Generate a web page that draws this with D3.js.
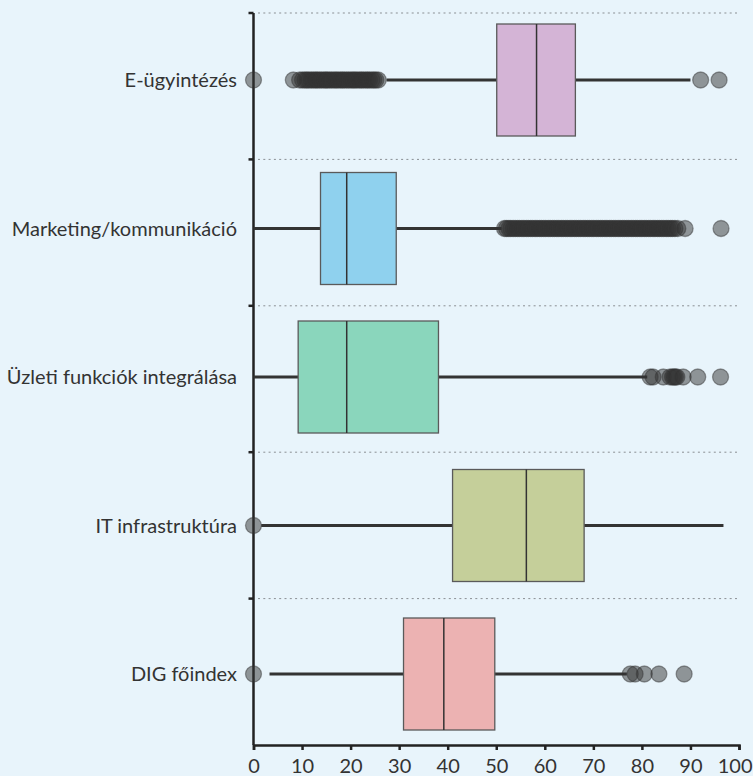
<!DOCTYPE html>
<html>
<head>
<meta charset="utf-8">
<script src="https://cdn.jsdelivr.net/npm/d3@7/dist/d3.min.js"></script>
<style>
  html, body { margin: 0; padding: 0; background: #e8f4fb; }
  svg { display: block; }
  text { font-family: Lato, "Open Sans", sans-serif; fill: #333; }
</style>
</head>
<body>
<svg id="chart" width="753" height="776"></svg>
<script>
// Categories, top to bottom
const categories = ["E-ügyintézés", "Marketing/kommunikáció", "Üzleti funkciók integrálása", "IT infrastruktúra", "DIG főindex"];

// Box fill colours per category
const boxColors = ["#d4b4d6", "#8fd1ee", "#8ad6bc", "#c5cf9a", "#ecb2b2"];

// Five-number summaries (whisker low, Q1, median, Q3, whisker high)
const whiskerLow  = [27.4, 0.0, 0.0, 1.6, 3.3];
const q1          = [50.1, 13.8, 9.2, 41.0, 30.9];
const median      = [58.3, 19.2, 19.2, 56.2, 39.2];
const q3          = [66.3, 29.4, 38.1, 68.1, 49.7];
const whiskerHigh = [90.0, 51.1, 81.1, 96.8, 76.9];

// Outlying observations per category
const outliersEgov = [0.0, 8.2, 9.5, 10.1, 10.6, 11.0, 11.4, 11.9, 12.3, 12.8, 13.1, 13.6, 14.0, 14.5, 14.9,
  15.2, 15.7, 16.1, 16.6, 17.0, 17.4, 17.9, 18.3, 18.7, 19.2, 19.6, 20.1, 20.5, 20.9, 21.3, 21.8,
  22.2, 22.6, 23.1, 23.5, 23.9, 24.4, 24.8, 25.2, 25.7, 92.1, 95.9];
const outliersMarketing = [51.7, 52.1, 52.6, 53.0, 53.5, 53.9, 54.4, 54.8, 55.3, 55.7, 56.2, 56.6, 57.1, 57.5,
  58.0, 58.4, 58.9, 59.3, 59.8, 60.2, 60.7, 61.1, 61.6, 62.0, 62.5, 62.9, 63.4, 63.8, 64.3, 64.7,
  65.2, 65.6, 66.1, 66.5, 67.0, 67.4, 67.9, 68.3, 68.8, 69.2, 69.7, 70.1, 70.6, 71.0, 71.5, 71.9,
  72.4, 72.8, 73.3, 73.7, 74.2, 74.6, 75.1, 75.5, 76.0, 76.4, 76.9, 77.3, 77.8, 78.2, 78.7, 79.1,
  79.6, 80.0, 80.5, 80.9, 81.4, 81.8, 82.3, 82.7, 83.2, 83.6, 84.1, 84.5, 85.0, 85.4, 85.9, 86.3,
  86.8, 87.4, 88.9, 96.3];
const outliersBusiness = [81.7, 82.3, 84.4, 85.8, 86.3, 86.6, 86.9, 87.2, 88.5, 91.5, 96.2];
const outliersIT = [0.0];
const outliersDIG = [0.0, 77.6, 78.6, 80.5, 83.5, 88.7];
const outliers = [outliersEgov, outliersMarketing, outliersBusiness, outliersIT, outliersDIG];

// X axis ticks
const xTicks = [0, 10, 20, 30, 40, 50, 60, 70, 80, 90, 100];

const svg = d3.select("#chart");

const x = d3.scaleLinear().domain([0, 100]).range([253.5, 739]);
// Row bands (gridlines / axis ticks) and row centres (boxes)
const band = d3.scaleBand().domain(categories).range([13, 745]).padding(0);
const yc = d3.scalePoint().domain(categories).range([80, 674]);
const boxH = 112;

// Dotted gridlines at row boundaries
svg.append("g").selectAll("line")
  .data(categories)
  .join("line")
  .attr("x1", 258).attr("x2", 738)
  .attr("y1", d => band(d)).attr("y2", d => band(d))
  .attr("stroke", "#8a8f93")
  .attr("stroke-width", 1)
  .attr("stroke-dasharray", "2,3.3");

// Axes
const gx = svg.append("g").attr("transform", `translate(0,745)`)
  .call(d3.axisBottom(x).tickValues(xTicks).tickSize(5).tickPadding(9).tickFormat(d3.format("d")));
gx.select(".domain").attr("stroke", "#222").attr("stroke-width", 2.5);
gx.selectAll(".tick line").attr("stroke", "#222").attr("stroke-width", 2.5);
gx.selectAll(".tick text").attr("font-size", 20).attr("fill", "#333")
  .style("font-family", "Lato, 'Open Sans', sans-serif");
// keep the last label inside the right edge
gx.selectAll(".tick text").filter(d => d === 100)
  .attr("text-anchor", "end").attr("x", 13);

const gy = svg.append("g").attr("transform", `translate(253.5,0)`);
gy.append("line").attr("x1", 0).attr("x2", 0).attr("y1", 13).attr("y2", 745)
  .attr("stroke", "#222").attr("stroke-width", 2.5);
gy.selectAll("line.tk")
  .data(categories)
  .join("line").attr("class", "tk")
  .attr("x1", -5).attr("x2", 0)
  .attr("y1", d => band(d)).attr("y2", d => band(d))
  .attr("stroke", "#222").attr("stroke-width", 2.5);

// Category labels
svg.append("g").selectAll("text")
  .data(categories)
  .join("text")
  .attr("x", 237)
  .attr("y", d => yc(d))
  .attr("dy", "0.35em")
  .attr("text-anchor", "end")
  .attr("font-size", 20)
  .text(d => d);

// Boxplots
const rows = categories.map((c, i) => ({
  c, color: boxColors[i], lo: whiskerLow[i], q1: q1[i], med: median[i], q3: q3[i], hi: whiskerHigh[i], out: outliers[i]
}));

const g = svg.append("g");
const row = g.selectAll("g.row").data(rows).join("g").attr("class", "row");

// Whiskers
row.append("line")
  .attr("x1", d => x(d.lo)).attr("x2", d => x(d.q1))
  .attr("y1", d => yc(d.c)).attr("y2", d => yc(d.c))
  .attr("stroke", "#333").attr("stroke-width", 3);
row.append("line")
  .attr("x1", d => x(d.q3)).attr("x2", d => x(d.hi))
  .attr("y1", d => yc(d.c)).attr("y2", d => yc(d.c))
  .attr("stroke", "#333").attr("stroke-width", 3);

// Boxes
row.append("rect")
  .attr("x", d => x(d.q1))
  .attr("width", d => x(d.q3) - x(d.q1))
  .attr("y", d => yc(d.c) - boxH / 2)
  .attr("height", boxH)
  .attr("fill", d => d.color)
  .attr("stroke", "#5a5a5a").attr("stroke-width", 1.3);

// Medians
row.append("line")
  .attr("x1", d => x(d.med)).attr("x2", d => x(d.med))
  .attr("y1", d => yc(d.c) - boxH / 2).attr("y2", d => yc(d.c) + boxH / 2)
  .attr("stroke", "#333").attr("stroke-width", 1.5);

// Outlier points
row.selectAll("circle")
  .data(d => d.out.map(v => ({ v, c: d.c })))
  .join("circle")
  .attr("cx", d => x(d.v))
  .attr("cy", d => yc(d.c))
  .attr("r", 8)
  .attr("fill", "#333").attr("fill-opacity", 0.5)
  .attr("stroke", "#333").attr("stroke-opacity", 0.45).attr("stroke-width", 1.3);
</script>
</body>
</html>
